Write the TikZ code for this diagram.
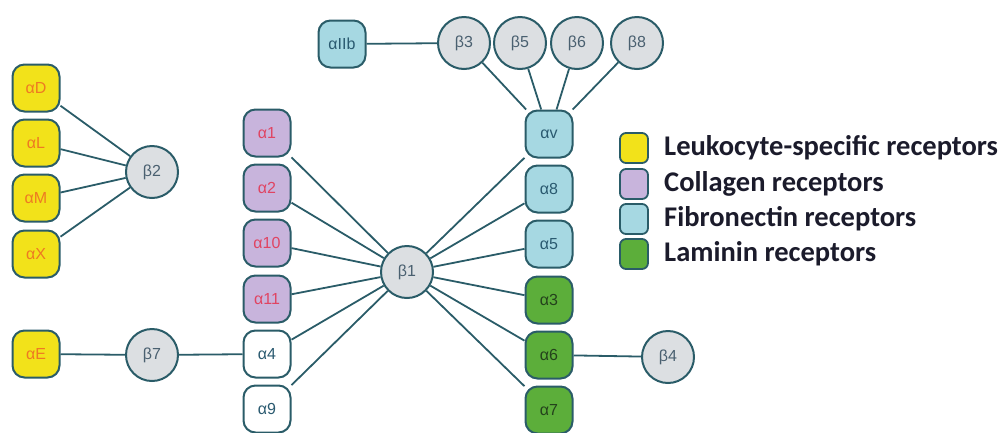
\documentclass[tikz,border=0pt]{standalone}
\usepackage{fontspec}
\setmainfont{Liberation Sans}
\newfontfamily\legfont{Carlito}
\definecolor{edge}{HTML}{2A5C68}
\definecolor{yel}{HTML}{F2E21A}
\definecolor{yeltxt}{HTML}{EE7A22}
\definecolor{pur}{HTML}{C8B4DC}
\definecolor{purtxt}{HTML}{E04462}
\definecolor{cya}{HTML}{A6D8E2}
\definecolor{cyatxt}{HTML}{2A5A70}
\definecolor{grn}{HTML}{5CAE3A}
\definecolor{grntxt}{HTML}{24421C}
\definecolor{gry}{HTML}{DCDFE2}
\definecolor{grytxt}{HTML}{4A6070}
\definecolor{legtxt}{HTML}{1B1B2B}
\tikzset{
  abox/.style={draw=edge, line width=2pt, rounded corners=12pt, minimum width=47pt, minimum height=47pt, inner sep=0pt, font=\fontsize{16}{18}\selectfont},
  ayel/.style={abox, fill=yel, text=yeltxt},
  apur/.style={abox, fill=pur, text=purtxt},
  acya/.style={abox, fill=cya, text=cyatxt},
  agrn/.style={abox, fill=grn, text=grntxt},
  awht/.style={abox, fill=white, text=cyatxt},
  bcirc/.style={circle, draw=edge, line width=2pt, fill=gry, text=grytxt, minimum size=52pt, inner sep=0pt, font=\fontsize{16}{18}\selectfont},
  conn/.style={draw=edge, line width=1.8pt},
  legbox/.style={draw=edge, line width=1.8pt, rounded corners=6pt, minimum width=28pt, minimum height=30pt, inner sep=0pt},
  legtext/.style={anchor=west, inner sep=0pt, text=legtxt, font=\legfont\bfseries\fontsize{28.5}{31}\selectfont}
}
\begin{document}
\begin{tikzpicture}[x=1pt,y=-1pt]
\useasboundingbox (0,0) rectangle (1008,432);
% leukocyte column
\node[ayel] (aD) at (36,88) {αD};
\node[ayel] (aL) at (36,143) {αL};
\node[ayel] (aM) at (36,198) {αM};
\node[ayel] (aX) at (36,254) {αX};
\node[bcirc] (b2) at (152,172) {β2};
% E / b7
\node[ayel] (aE) at (36,354) {αE};
\node[bcirc] (b7) at (152,355) {β7};
% left b1 column
\node[apur] (a1) at (267,133) {α1};
\node[apur] (a2) at (267,188) {α2};
\node[apur] (a10) at (267,243) {α10};
\node[apur] (a11) at (267,299) {α11};
\node[awht] (a4) at (267,354) {α4};
\node[awht] (a9) at (267,409) {α9};
\node[bcirc] (b1) at (407,272) {β1};
% right column
\node[acya] (av) at (549,134) {αv};
\node[acya] (a8) at (549,189) {α8};
\node[acya] (a5) at (549,244) {α5};
\node[agrn] (a3) at (549,300) {α3};
\node[agrn] (a6) at (549,355) {α6};
\node[agrn] (a7) at (549,410) {α7};
\node[bcirc] (b4) at (668,357) {β4};
% top row
\node[acya] (aIIb) at (342,44) {αIIb};
\node[bcirc] (b3) at (464,43) {β3};
\node[bcirc] (b5) at (520,43) {β5};
\node[bcirc] (b6) at (577,43) {β6};
\node[bcirc] (b8) at (637,43) {β8};
% connectors
\foreach \n in {aD,aL,aM,aX} \draw[conn] (\n) -- (b2);
\draw[conn] (aE) -- (b7);
\draw[conn] (b7) -- (a4);
\foreach \n in {a1,a2,a10,a11,a4,a9,av,a8,a5,a3,a6,a7} \draw[conn] (\n) -- (b1);
\draw[conn] (a6) -- (b4);
\draw[conn] (aIIb) -- (b3);
\foreach \n in {b3,b5,b6,b8} \draw[conn] (\n) -- (av);
% legend
\node[legbox, fill=yel] (l1) at (634,148) {};
\node[legbox, fill=pur] (l2) at (634,184) {};
\node[legbox, fill=cya] (l3) at (634,219) {};
\node[legbox, fill=grn] (l4) at (634,254) {};
\node[legtext] (t1) at (664,148) {Leukocyte-specific receptors};
\node[legtext] (t2) at (664,184) {Collagen receptors};
\node[legtext] (t3) at (664,219) {Fibronectin receptors};
\node[legtext] (t4) at (664,254) {Laminin receptors};
\end{tikzpicture}
\end{document}
